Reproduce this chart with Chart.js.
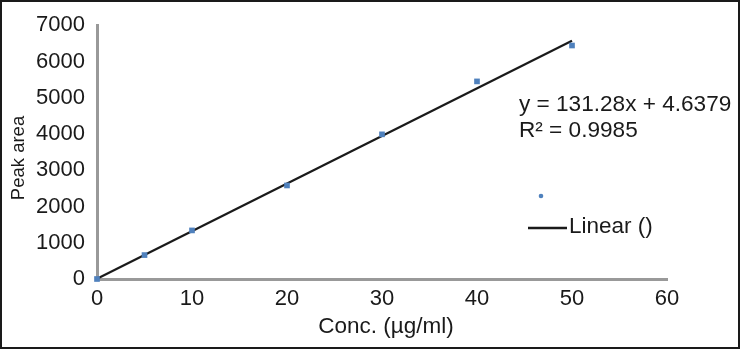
<!DOCTYPE html>
<html>
<head>
<meta charset="utf-8">
<script src="https://cdn.jsdelivr.net/npm/chart.js@4/dist/chart.umd.min.js"></script>
<style>
html,body{margin:0;padding:0;background:#fff;}
#wrap{width:741px;height:350px;position:relative;}
</style>
</head>
<body>
<div id="wrap"><canvas id="c" width="741" height="350"></canvas></div>
<script>
// Data
const concentrations = [0, 5, 10, 20, 30, 40, 50];
const peakAreas = [0, 660, 1340, 2580, 3990, 5450, 6440];
const trendX = [0, 50];
const trendY = [4.64, 6568.64];
const xTicks = [0, 10, 20, 30, 40, 50, 60];
const yTicks = [0, 1000, 2000, 3000, 4000, 5000, 6000, 7000];
const equationText = "y = 131.28x + 4.6379";
const r2Text = "R\u00B2 = 0.9985";
const xTitle = "Conc. (\u00B5g/ml)";
const yTitle = "Peak area";
const legendLabel = "Linear ()";

const FONT = "'Liberation Sans', Arial, sans-serif";
const POINT_COLOR = "#4F81BD";
const TEXT_COLOR = "#1a1a1a";

const overlay = {
  id: 'overlay',
  afterDraw(chart) {
    const ctx = chart.ctx;
    const a = chart.chartArea;
    ctx.save();
    // frame
    ctx.strokeStyle = '#1a1a1a';
    ctx.lineWidth = 2;
    ctx.strokeRect(1, 1, 738, 347);
    ctx.fillStyle = TEXT_COLOR;
    // axis titles
    ctx.font = '22.5px ' + FONT;
    ctx.textAlign = 'center';
    ctx.textBaseline = 'middle';
    ctx.fillText(xTitle, (a.left + a.right) / 2 + 4, 327);
    ctx.save();
    ctx.translate(19, 158);
    ctx.rotate(-Math.PI / 2);
    ctx.font = '18.5px ' + FONT;
    ctx.fillText(yTitle, 0, 0);
    ctx.restore();
    // equation
    ctx.font = '22.6px ' + FONT;
    ctx.textAlign = 'left';
    ctx.fillText(equationText, 519, 105);
    ctx.fillText(r2Text, 519, 131);
    // legend
    ctx.fillStyle = POINT_COLOR;
    ctx.beginPath();
    ctx.arc(541, 196, 2.3, 0, Math.PI * 2);
    ctx.fill();
    ctx.strokeStyle = '#1a1a1a';
    ctx.lineWidth = 2.5;
    ctx.beginPath();
    ctx.moveTo(528, 228);
    ctx.lineTo(567, 228);
    ctx.stroke();
    ctx.fillStyle = TEXT_COLOR;
    ctx.font = '22.5px ' + FONT;
    ctx.fillText(legendLabel, 569, 227);
    ctx.restore();
  }
};

new Chart(document.getElementById('c'), {
  type: 'scatter',
  data: {
    datasets: [
      {
        label: '',
        data: concentrations.map((x, i) => ({x: x, y: peakAreas[i]})),
        pointStyle: 'rect',
        pointRadius: 4,
        backgroundColor: POINT_COLOR,
        borderColor: POINT_COLOR,
        borderWidth: 0,
        clip: false,
        order: 1
      },
      {
        label: legendLabel,
        type: 'line',
        data: trendX.map((x, i) => ({x: x, y: trendY[i]})),
        borderColor: '#1a1a1a',
        borderWidth: 2.2,
        pointRadius: 0,
        fill: false,
        clip: false,
        order: 2
      }
    ]
  },
  options: {
    responsive: false,
    animation: false,
    layout: {padding: {left: 0, top: 16, right: 74, bottom: 0}},
    plugins: {legend: {display: false}, tooltip: {enabled: false}},
    scales: {
      x: {
        type: 'linear', min: 0, max: 60,
        afterBuildTicks: s => { s.ticks = xTicks.map(v => ({value: v})); },
        afterFit: s => { s.height = 71; },
        grid: {display: false, drawTicks: false},
        border: {color: '#999999', width: 3},
        ticks: {color: TEXT_COLOR, font: {family: FONT, size: 22}, padding: 7, maxRotation: 0,
                callback: v => String(v)}
      },
      y: {
        type: 'linear', min: 0, max: 7000,
        afterBuildTicks: s => { s.ticks = yTicks.map(v => ({value: v})); },
        afterFit: s => { s.width = 97; },
        grid: {display: false, drawTicks: false},
        border: {color: '#999999', width: 3},
        ticks: {color: TEXT_COLOR, font: {family: FONT, size: 22}, padding: 12,
                callback: v => String(v)}
      }
    }
  },
  plugins: [overlay]
});
</script>
</body>
</html>
